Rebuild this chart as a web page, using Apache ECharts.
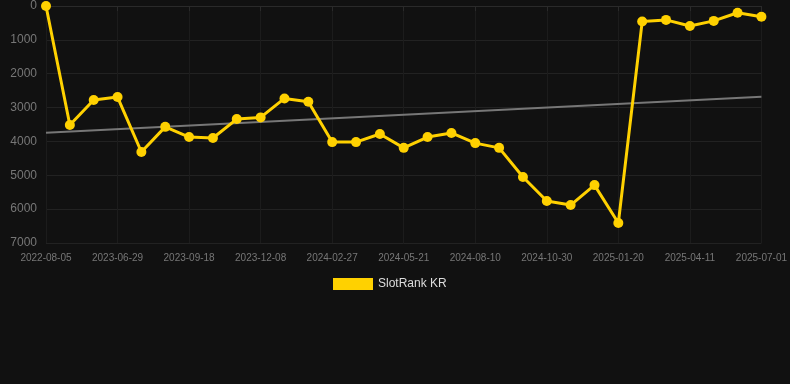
<!DOCTYPE html>
<html><head><meta charset="utf-8">
<script src="https://cdn.jsdelivr.net/npm/echarts@6/dist/echarts.min.js"></script>
<style>html,body{margin:0;padding:0;background:#111111;}#c{width:790px;height:384px;}</style>
</head><body><div id="c"></div>
<script>
const categories = ["2022-08-05","2023-05-06","2023-06-02","2023-06-29","2023-07-26","2023-08-22","2023-09-18","2023-10-15","2023-11-11","2023-12-08","2024-01-04","2024-01-31","2024-02-27","2024-03-26","2024-04-23","2024-05-21","2024-06-17","2024-07-14","2024-08-10","2024-09-06","2024-10-03","2024-10-30","2024-11-26","2024-12-23","2025-01-20","2025-02-16","2025-03-15","2025-04-11","2025-05-08","2025-06-04","2025-07-01"];
const rankValues = [0,3515,2776,2690,4312,3570,3870,3900,3340,3290,2730,2830,4020,4020,3780,4190,3870,3750,4050,4190,5050,5760,5880,5290,6410,460,410,590,440,200,320];
const yTicks = [0,1000,2000,3000,4000,5000,6000,7000];
const seriesName = "SlotRank KR";

// linear regression trend
const n = rankValues.length;
let sx=0, sy=0, sxy=0, sxx=0;
rankValues.forEach((v,i)=>{sx+=i;sy+=v;sxy+=i*v;sxx+=i*i;});
const slope = (n*sxy - sx*sy)/(n*sxx - sx*sx);
const intercept = (sy - slope*sx)/n;
const trend = rankValues.map((v,i)=> (i===0||i===n-1) ? +(intercept+slope*i).toFixed(1) : null);

const chart = echarts.init(document.getElementById('c'));
chart.setOption({
  backgroundColor: '#111111',
  animation: false,
  grid: {left: 46, right: 28, top: 6, bottom: 141},
  legend: {
    data: [{name: seriesName, icon: 'rect'}],
    top: 273, left: 328,
    itemWidth: 40, itemHeight: 12, itemGap: 10,
    textStyle: {color: '#dddddd', fontSize: 12, fontFamily: 'Liberation Sans, Arial, sans-serif'}
  },
  xAxis: {
    type: 'category', data: categories, boundaryGap: false,
    axisLine: {lineStyle: {color: '#2a2a2a'}},
    axisTick: {show: true, interval: 2, lineStyle: {color: '#2a2a2a'}},
    axisLabel: {interval: 2, color: '#777777', fontSize: 10, margin: 10, fontFamily: 'Liberation Sans, Arial, sans-serif'},
    splitLine: {show: true, interval: 2, lineStyle: {color: '#1c1c1c'}}
  },
  yAxis: {
    type: 'value', inverse: true, min: yTicks[0], max: yTicks[yTicks.length-1], interval: 1000,
    axisLine: {show: false}, axisTick: {show: false},
    axisLabel: {color: '#777777', fontSize: 12, margin: 9, formatter: v => String(v), fontFamily: 'Liberation Sans, Arial, sans-serif'},
    splitLine: {lineStyle: {color: '#222222'}}
  },
  series: [
    {
      name: seriesName, type: 'line', data: rankValues,
      symbol: 'circle', symbolSize: 10,
      lineStyle: {color: '#FFD100', width: 3},
      itemStyle: {color: '#FFD100'},
      z: 3
    },
    {
      name: 'trend', type: 'line', data: trend, connectNulls: true,
      symbol: 'none', lineStyle: {color: '#777777', width: 2},
      z: 2
    }
  ]
});
</script></body></html>
